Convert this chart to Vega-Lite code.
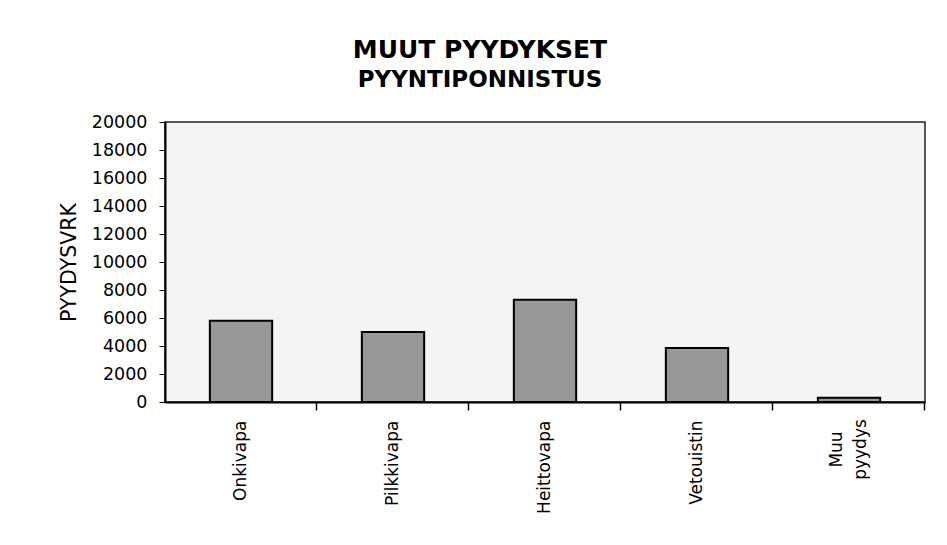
{
  "$schema": "https://vega.github.io/schema/vega-lite/v6.json",
  "autosize": "none",
  "width": 760,
  "height": 280,
  "padding": {"left": 165, "top": 122, "right": 22, "bottom": 143},
  "background": "white",
  "title": {
    "text": "MUUT PYYDYKSET",
    "subtitle": "PYYNTIPONNISTUS",
    "font": "DejaVu Sans",
    "fontSize": 25,
    "fontWeight": "bold",
    "color": "black",
    "subtitleFont": "DejaVu Sans",
    "subtitleFontSize": 23,
    "subtitleFontWeight": "bold",
    "subtitleColor": "black",
    "subtitlePadding": 6,
    "anchor": "middle",
    "frame": "group",
    "dx": -65,
    "offset": 21
  },
  "data": {
    "values": [
      {"pyydys": "Onkivapa", "pyydysvrk": 5800},
      {"pyydys": "Pilkkivapa", "pyydysvrk": 5000},
      {"pyydys": "Heittovapa", "pyydysvrk": 7300},
      {"pyydys": "Vetouistin", "pyydysvrk": 3850},
      {"pyydys": "Muu pyydys", "pyydysvrk": 300}
    ]
  },
  "mark": {"type": "bar", "fill": "#979797", "stroke": "black", "strokeWidth": 2},
  "encoding": {
    "x": {
      "field": "pyydys",
      "type": "nominal",
      "sort": null,
      "scale": {"paddingInner": 0.59, "paddingOuter": 0.295},
      "axis": {
        "title": null,
        "labelAngle": -90,
        "labelAlign": {"condition": {"test": "datum.value === 'Muu pyydys'", "value": "center"}, "value": "right"},
        "labelBaseline": "middle",
        "labelFont": "DejaVu Sans",
        "labelFontSize": 17,
        "labelColor": "black",
        "labelPadding": {"condition": {"test": "datum.value === 'Muu pyydys'", "value": 39}, "value": 10},
        "labelOffset": {"condition": {"test": "datum.value === 'Muu pyydys'", "value": -12}, "value": 0},
        "labelExpr": "datum.label == 'Muu pyydys' ? ['Muu', 'pyydys'] : datum.label",
        "labelLineHeight": 24,
        "bandPosition": 1.719,
        "ticks": true,
        "tickSize": 8,
        "tickColor": "black",
        "tickWidth": 1.5,
        "domainColor": "black",
        "domainWidth": 2,
        "grid": false
      }
    },
    "y": {
      "field": "pyydysvrk",
      "type": "quantitative",
      "scale": {"domain": [0, 20000], "nice": false},
      "axis": {
        "title": "PYYDYSVRK",
        "titleFont": "DejaVu Sans",
        "titleFontSize": 20.5,
        "titleFontWeight": "normal",
        "titleColor": "black",
        "titlePadding": 12,
        "values": [0, 2000, 4000, 6000, 8000, 10000, 12000, 14000, 16000, 18000, 20000],
        "format": "d",
        "labelFont": "DejaVu Sans",
        "labelFontSize": 17.5,
        "labelColor": "black",
        "labelPadding": 12,
        "tickSize": 6,
        "tickColor": "black",
        "domainColor": "black",
        "domainWidth": 2,
        "grid": false
      }
    }
  },
  "config": {
    "view": {"fill": "#f4f4f4", "stroke": "#222", "strokeWidth": 1.5}
  }
}
